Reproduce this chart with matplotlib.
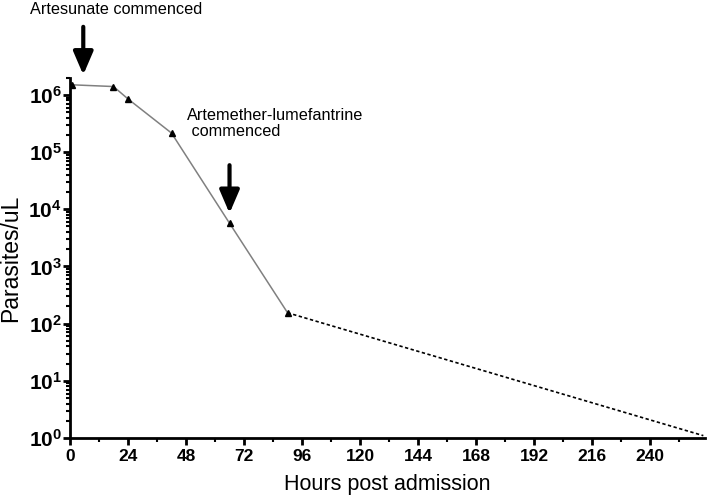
import numpy as np
import matplotlib
matplotlib.use("Agg")
import matplotlib.pyplot as plt
from matplotlib.ticker import MultipleLocator, LogLocator, NullFormatter, FuncFormatter

plt.rcParams['font.family'] = ['Liberation Sans', 'DejaVu Sans']
plt.rcParams['mathtext.fontset'] = 'custom'
plt.rcParams['mathtext.rm'] = 'Liberation Sans:bold'
plt.rcParams['mathtext.bf'] = 'Liberation Sans:bold'

# measured parasitaemia
hours = [1, 18, 24, 42, 66, 90]
parasites = [1.5e6, 1.4e6, 8.5e5, 2.15e5, 5.7e3, 155]
# extrapolated clearance
extrap_hours = [90, 262]
extrap_parasites = [155, 1.1]

arrow_hours = [5.5, 66]
x_ticks = [0, 24, 48, 72, 96, 120, 144, 168, 192, 216, 240]

fig = plt.figure(figsize=(7.09, 4.97), dpi=100)
ax = fig.add_axes([0.0987, 0.1187, 0.895, 0.725])

ax.plot(hours, parasites, color='#808080', lw=1.1, marker='^', ms=5,
        mfc='black', mec='black', zorder=3)
ax.plot(extrap_hours, extrap_parasites, color='black', lw=1.2, ls=(0, (2, 1.5)))

ax.set_yscale('log')
ax.set_ylim(1, 2e6)
ax.set_xlim(0, 262.5)
ax.set_xticks(x_ticks)
ax.xaxis.set_minor_locator(MultipleLocator(12))
ax.yaxis.set_major_locator(LogLocator(base=10, numticks=10))
ax.yaxis.set_major_formatter(FuncFormatter(lambda v, p: r'$\mathbf{10^{%d}}$' % round(np.log10(v))))
ax.yaxis.set_minor_locator(LogLocator(base=10, subs=np.arange(2, 10), numticks=20))
ax.yaxis.set_minor_formatter(NullFormatter())

for s in ['top', 'right']:
    ax.spines[s].set_visible(False)
for s in ['left', 'bottom']:
    ax.spines[s].set_linewidth(2)
ax.tick_params(which='major', direction='out', width=2, length=5)
ax.tick_params(which='minor', direction='out', width=1.5, length=3)
ax.tick_params(axis='x', which='major', pad=3, labelsize=12.5)
ax.tick_params(axis='y', which='major', pad=1, labelsize=15)
for lab in ax.get_xticklabels():
    lab.set_fontweight('bold')

ax.set_xlabel('Hours post admission', fontsize=15.5, labelpad=7)
ax.set_ylabel('Parasites/uL', fontsize=16.5)
ax.yaxis.set_label_coords(-0.076, 0.5)

# arrows for treatment start
ax.annotate('', xy=(arrow_hours[0], 2.24e6), xytext=(arrow_hours[0], 1.55e7),
            arrowprops=dict(arrowstyle='-|>,head_length=0.7,head_width=0.3',
                            color='black', lw=3, mutation_scale=20,
                            shrinkA=0, shrinkB=0),
            annotation_clip=False)
ax.annotate('', xy=(arrow_hours[1], 8.5e3), xytext=(arrow_hours[1], 5.9e4),
            arrowprops=dict(arrowstyle='-|>,head_length=0.7,head_width=0.3',
                            color='black', lw=3, mutation_scale=20,
                            shrinkA=0, shrinkB=0))

fig.text(30 / 709, 1 - 2 / 497, 'Artesunate commenced', fontsize=11.7, va='top', ha='left')
fig.text(187 / 709, 1 - 108 / 497, 'Artemether-lumefantrine\n commenced', fontsize=11.7,
         va='top', ha='left', linespacing=1.1)

fig.savefig('out.png', dpi=100)
